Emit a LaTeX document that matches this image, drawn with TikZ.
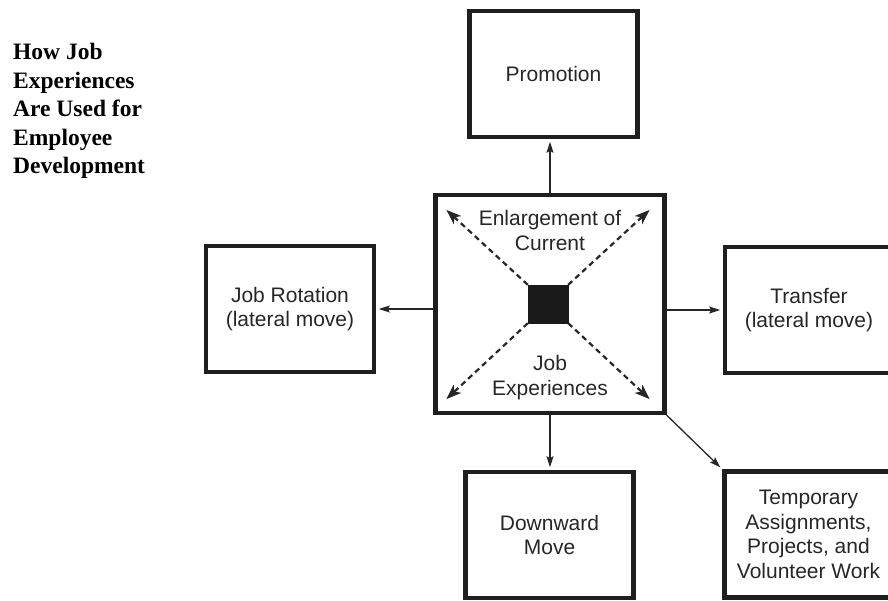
\documentclass[tikz,border=0pt]{standalone}
\usepackage{fontspec}
\setmainfont{Liberation Serif}
\setsansfont{Liberation Sans}
\usetikzlibrary{arrows.meta}

\begin{document}
\begin{tikzpicture}[x=1pt,y=-1pt,
  box/.style={draw=black!88, line width=4.8pt, minimum width=168pt, minimum height=126pt,
    inner sep=0pt, align=center, text=black!85, font=\sffamily\fontsize{21}{24.5}\selectfont},
  hub/.style={draw=black!88, line width=4.2pt, minimum width=229pt, minimum height=218pt, inner sep=0pt},
  link/.style={draw=black!85, line width=1.3pt, shorten >=2.4pt, -{Stealth[length=11pt,width=7pt,inset=2pt]}},
  spread/.style={draw=black!85, line width=2.2pt, dash pattern=on 5.5pt off 4pt,
    -{Stealth[length=15pt,width=11pt,inset=4pt]}},
  lbl/.style={align=center, inner sep=0pt, text=black!85, font=\sffamily\fontsize{21}{25}\selectfont},
  heading/.style={align=left, inner sep=0pt, anchor=west, font=\bfseries\fontsize{23.5}{28.5}\selectfont}]

\useasboundingbox (0,0) rectangle (888,600);
\clip (0,0) rectangle (888,600);

% title
\node[heading] (title) at (13,111) {How Job\\Experiences\\Are Used for\\Employee\\Development};

% central box with the kernel square
\node[hub] (center) at (550,304) {};
\node[fill=black!90, draw=black!90, minimum width=40pt, minimum height=38pt, inner sep=0pt] (core) at (548,304) {};
\node[lbl] (enlarge) at (550,230) {Enlargement of\\Current};
\node[lbl] (jobexp) at (550,378) {Job\\Experiences};

% surrounding moves
\node[box] (promo) at (553.5,74) {Promotion};
\node[box] (rot) at (290,309) {Job Rotation\\(lateral move)};
\node[box] (trans) at (809,310) {Transfer\\(lateral move)};
\node[box] (down) at (549.5,535) {Downward\\Move};
\node[box] (temp) at (808.5,534.5) {Temporary\\Assignments,\\Projects, and\\Volunteer Work};

% tips of the dashed spread arrows
\coordinate (tnw) at ([shift={(13,17)}]center.north west);
\coordinate (tne) at ([shift={(-17,17)}]center.north east);
\coordinate (tsw) at ([shift={(13,-16)}]center.south west);
\coordinate (tse) at ([shift={(-17,-16)}]center.south east);

\draw[spread] (core.north west) -- (tnw);
\draw[spread] (core.north east) -- (tne);
\draw[spread] (core.south west) -- (tsw);
\draw[spread] (core.south east) -- (tse);

% connectors to the surrounding boxes
\draw[link] (center.north) -- (center.north |- promo.south);
\draw[link] (center.west |- rot.east) -- (rot.east);
\draw[link] (center.east |- trans.west) -- (trans.west);
\draw[link] (center.south) -- (center.south |- down.north);
\draw[link] (center.south east) -- (temp.north west);
\end{tikzpicture}
\end{document}
